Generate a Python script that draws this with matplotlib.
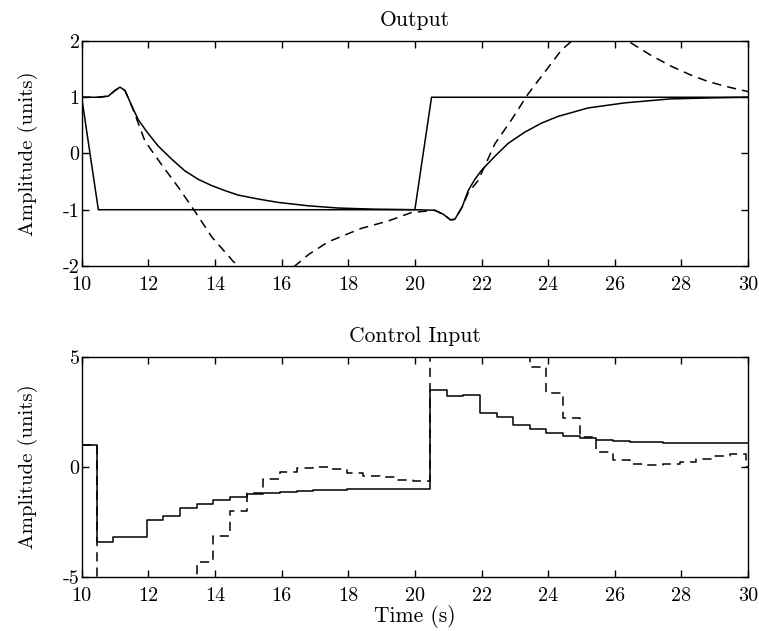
import matplotlib
matplotlib.use('Agg')
import matplotlib.pyplot as plt

# Fuente tipo LaTeX (Computer Modern incluida en matplotlib)
plt.rcParams['font.family'] = ['cmr10', 'DejaVu Serif']
plt.rcParams['axes.unicode_minus'] = False
plt.rcParams['mathtext.fontset'] = 'cm'

# 1. Datos - salida (grafico superior)
t_ref = [10.0, 10.5, 20.0, 20.5, 30.0]
y_ref = [1.0, -1.0, -1.0, 1.0, 1.0]

t_out = [10.0, 10.5, 10.8, 11.0, 11.15, 11.3, 11.5, 11.7, 11.95, 12.3, 12.7,
         13.1, 13.5, 13.9, 14.3, 14.7, 15.3, 15.9, 16.8, 17.7, 18.8, 20.0,
         20.6, 20.85, 21.07, 21.2, 21.42, 21.6, 21.8, 22.0, 22.4, 22.8, 23.3,
         23.8, 24.3, 25.2, 26.3, 27.65, 29.0, 30.0]
y_out = [1.0, 1.0, 1.02, 1.12, 1.18, 1.12, 0.85, 0.6, 0.39, 0.13, -0.1,
         -0.31, -0.46, -0.57, -0.66, -0.74, -0.81, -0.87, -0.93, -0.97, -0.99, -1.0,
         -1.01, -1.08, -1.18, -1.17, -0.95, -0.66, -0.46, -0.30, -0.05, 0.18, 0.38,
         0.54, 0.66, 0.81, 0.9, 0.97, 0.99, 1.0]

t_out2 = [10.0, 10.5, 10.8, 11.0, 11.15, 11.3, 11.5, 11.9, 12.4, 12.9, 13.4,
          13.9, 14.55, 15.0, 15.6, 16.2, 16.8, 17.4, 18.4, 19.2, 19.9, 20.6,
          20.85, 21.07, 21.2, 21.42, 21.6, 21.9, 22.4, 22.9, 23.4, 23.9, 24.4,
          24.9, 25.5, 26.0, 26.45, 27.1, 27.7, 28.3, 28.8, 29.35, 30.0]
y_out2 = [1.0, 1.0, 1.02, 1.12, 1.18, 1.12, 0.85, 0.22, -0.2, -0.6, -1.03,
          -1.48, -1.92, -2.15, -2.25, -2.1, -1.8, -1.57, -1.33, -1.2, -1.05, -1.01,
          -1.08, -1.18, -1.17, -0.95, -0.7, -0.48, 0.17, 0.6, 1.06, 1.45, 1.84,
          2.1, 2.25, 2.15, 1.98, 1.74, 1.55, 1.39, 1.28, 1.19, 1.1]

# 2. Datos - entrada de control (grafico inferior), muestreo escalonado
t_u = [10.0, 10.45, 10.95, 11.45, 11.95, 12.45, 12.95, 13.45, 13.95, 14.45,
       14.95, 15.45, 15.95, 16.45, 16.95, 17.45, 17.95, 18.45, 18.95, 19.45,
       19.95, 20.45, 20.95, 21.45, 21.95, 22.45, 22.95, 23.45, 23.95, 24.45,
       24.95, 25.45, 25.95, 26.45, 26.95, 27.45, 27.95, 28.45, 28.95, 29.45,
       29.95, 30.0]
u1 = [1.0, -3.43, -3.2, -3.2, -2.42, -2.23, -1.86, -1.67, -1.49, -1.37,
      -1.25, -1.16, -1.12, -1.09, -1.06, -1.04, -1.02, -1.01, -1.0, -1.0,
      -0.99, 3.5, 3.25, 3.27, 2.47, 2.29, 1.9, 1.72, 1.54, 1.42,
      1.31, 1.24, 1.18, 1.14, 1.12, 1.1, 1.09, 1.08, 1.07, 1.07,
      1.07, 1.07]
u2 = [1.0, -9.0, -10.0, -9.5, -8.5, -7.0, -5.8, -4.3, -3.15, -2.02,
      -1.16, -0.56, -0.21, -0.05, 0.0, -0.08, -0.25, -0.4, -0.45, -0.57,
      -0.65, 9.0, 10.0, 9.5, 8.5, 7.0, 6.0, 4.54, 3.36, 2.23,
      1.35, 0.7, 0.3, 0.12, 0.1, 0.15, 0.25, 0.36, 0.5, 0.6,
      0.0, 0.0]

# 3. Figura
fig = plt.figure(figsize=(7.59, 6.31), dpi=100)
ax1 = fig.add_axes([0.1076, 0.5785, 0.878, 0.3565])
ax2 = fig.add_axes([0.1076, 0.0856, 0.878, 0.3486])

dash = (0, (6, 4))

ax1.plot(t_ref, y_ref, color='black', lw=1.1)
ax1.plot(t_out, y_out, color='black', lw=1.1)
ax1.plot(t_out2, y_out2, color='black', lw=1.1, linestyle=dash)
ax1.set_xlim(10, 30)
ax1.set_ylim(-2, 2)
ax1.set_yticks([-2, -1, 0, 1, 2])
ax1.set_title('Output', fontsize=15.5, pad=11)
ax1.set_ylabel('Amplitude (units)', fontsize=15, labelpad=18)

ax2.plot(t_u, u1, color='black', lw=1.1, drawstyle='steps-post')
ax2.plot(t_u, u2, color='black', lw=1.1, drawstyle='steps-post', linestyle=dash)
ax2.set_xlim(10, 30)
ax2.set_ylim(-5, 5)
ax2.set_yticks([-5, 0, 5])
ax2.set_title('Control Input', fontsize=15.5, pad=11)
ax2.set_ylabel('Amplitude (units)', fontsize=15, labelpad=18)
ax2.set_xlabel('Time (s)', fontsize=15.5, labelpad=0)

for ax in (ax1, ax2):
    ax.set_xticks(range(10, 31, 2))
    ax.tick_params(direction='in', top=True, right=True, length=5,
                   labelsize=14.5, width=1)
    ax.tick_params(axis='x', pad=7)
    ax.tick_params(axis='y', pad=1.5)
    for s in ax.spines.values():
        s.set_linewidth(1.0)

fig.savefig('out.png', dpi=100)
